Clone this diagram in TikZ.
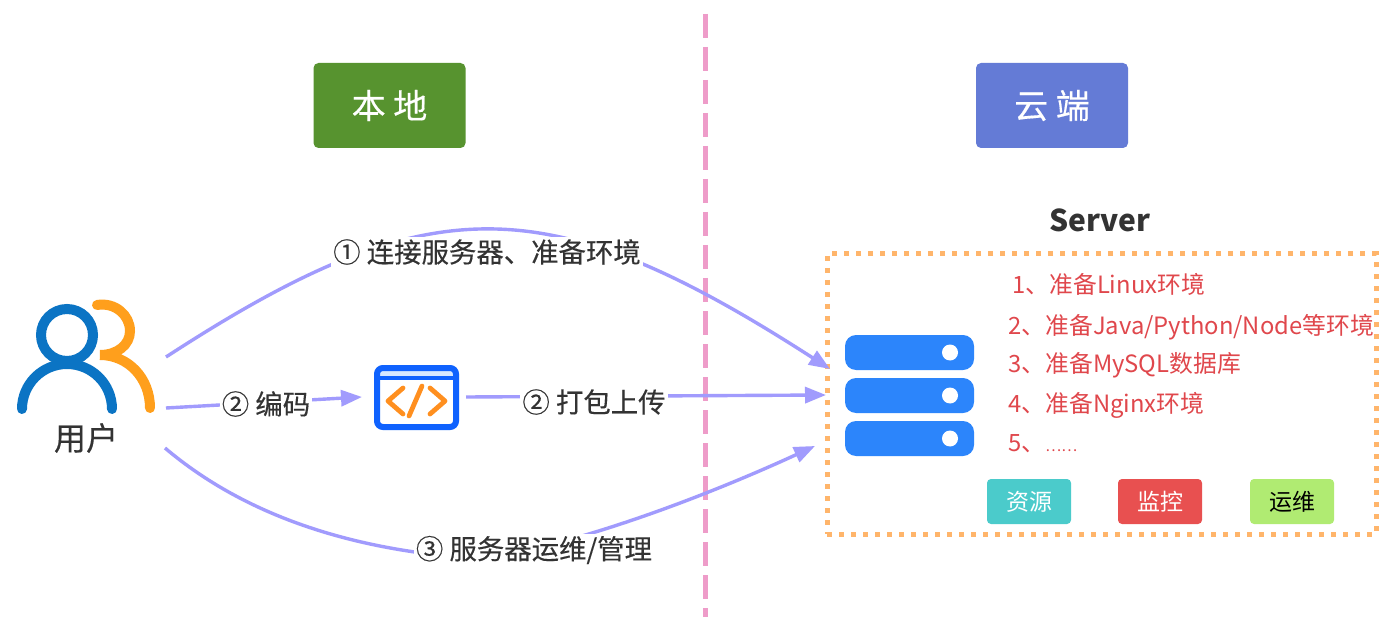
\documentclass[tikz,border=0pt]{standalone}
\usepackage{fontspec}
\setmainfont{Noto Sans CJK SC}
\newfontfamily\heavycjk[FakeBold=0.35]{Noto Sans CJK SC}
\usetikzlibrary{arrows.meta,positioning}
\definecolor{flowc}{HTML}{A19BFD}
\definecolor{inkc}{HTML}{333333}
\definecolor{redt}{HTML}{E0474C}
\definecolor{blueu}{HTML}{0B74C4}
\definecolor{orangeu}{HTML}{FF9F1C}
\definecolor{orangec}{HTML}{FF8F1F}
\definecolor{bluebar}{HTML}{2C85FB}
\definecolor{iconb}{HTML}{0F62FE}
\definecolor{stripc}{HTML}{D6E8FF}
\definecolor{pinkc}{HTML}{EE9CC9}
\definecolor{dotc}{HTML}{FFB56B}
\tikzset{
  flow/.style={draw=flowc,line width=1.7pt,-{Triangle[length=10.5pt,width=8pt]}},
  flowlabel/.style={fill=white,text=inkc,font=\heavycjk\fontsize{13.7}{15}\selectfont,inner sep=1pt},
  zonebox/.style={rounded corners=2.5pt,minimum width=76pt,minimum height=42.5pt,text=white,font=\heavycjk\fontsize{17}{19}\selectfont},
  tagbox/.style={rounded corners=2pt,minimum width=42pt,minimum height=22.5pt,inner sep=0pt,font=\fontsize{11.5}{13}\selectfont},
  bar/.style={fill=bluebar,rounded corners=5.5pt,minimum width=64.5pt,minimum height=17.5pt,inner sep=0pt},
  dot/.style={circle,fill=white,minimum size=8pt,inner sep=0pt},
  task/.style={anchor=west,text=redt,inner sep=0pt,font=\fontsize{11.9}{14}\selectfont},
  ubody/.style={line width=5pt,line cap=round},
  glyph/.style={draw=orangec,line width=2.4pt,line cap=round,line join=round},
}
\begin{document}
\begin{tikzpicture}[x=0.5pt,y=-0.5pt]
\useasboundingbox[fill=white] (0,0) rectangle (1400,641);

% divider between the two sides
\draw[pinkc,line width=2.5pt,dash pattern=on 12pt off 4.5pt] (705,14) -- (705,617);

% side headers
\node[zonebox,fill={rgb,255:red,87;green,147;blue,47}] (local) at (389.5,105.5) {本 地};
\node[zonebox,fill={rgb,255:red,100;green,123;blue,214}] (cloud) at (1052,105.5) {云 端};

% user figure
\draw[blueu,line width=5pt] (67,335) circle[radius=13pt];
\draw[blueu,ubody] (22,409) arc[start angle=180,end angle=0,radius=22.5pt];
\draw[orangeu,ubody] (97,305) .. controls (115,302) and (130,315) .. (130,331)
   .. controls (130,345) and (117,355) .. (100,355)
   .. controls (128,355) and (150,378) .. (150,408);
\node[text=inkc,font=\heavycjk\fontsize{16}{18}\selectfont,inner sep=0pt] (user) at (86,438) {用户};

% code window icon
\fill[stripc] (377,368) rectangle (456,377);
\node[draw=iconb,line width=3pt,rounded corners=3pt,minimum width=39.5pt,minimum height=29.5pt,inner sep=0pt] (icon) at (416.5,397.5) {};
\draw[iconb,line width=2.2pt] (375,378) -- (458,378);
\draw[glyph] (403,388) -- (388,401) -- (403,414);
\draw[glyph] (430,388) -- (445,401) -- (430,414);
\draw[glyph] (422,386) -- (409,416);

% server box
\node[draw=dotc,line width=2.5pt,dash pattern=on 2.6pt off 3.4pt,minimum width=274.5pt,minimum height=140pt,inner sep=0pt] (serverbox) at (1101.5,394) {};
\node[text=inkc,font=\fontsize{15}{17}\selectfont\bfseries,inner sep=0pt] (servertitle) at (1100,220) {Server};

\node[bar] (bar1) at (909.5,352.5) {};
\node[bar] (bar2) at (909.5,395.5) {};
\node[bar] (bar3) at (909.5,438.5) {};
\node[dot] (dot1) at (950,352.5) {};
\node[dot] (dot2) at (950,395.5) {};
\node[dot] (dot3) at (950,438.5) {};

\node[task] (t1) at (1012,284) {1、准备Linux环境};
\node[task] (t2) at (1008,327) {2、准备Java/Python/Node等环境};
\node[task] (t3) at (1008,365) {3、准备MySQL数据库};
\node[task] (t4) at (1008,405) {4、准备Nginx环境};
\node[task] (t5) at (1008,444) {5、{\fontsize{7.5}{9}\selectfont ……}};

\node[tagbox,fill={rgb,255:red,75;green,203;blue,203},text=white] (res) at (1029,501.5) {资源};
\node[tagbox,fill={rgb,255:red,232;green,80;blue,80},text=white] (mon) at (1160,501.5) {监控};
\node[tagbox,fill={rgb,255:red,176;green,235;blue,114},text=black] (ops) at (1292,501.5) {运维};

% connector ends
\coordinate (a1) at (166,357);
\coordinate (b1) at (830,369);
\coordinate (a2) at (166,408);
\coordinate (b2) at (362,397);
\coordinate (c2) at (466,397);
\coordinate (d2) at (826,395);
\coordinate (a3) at (165,448);
\coordinate (m3) at (470,558);
\coordinate (b3) at (815,446);

% connectors
\draw[flow] (a1) .. controls (429,186) and (546,186) .. (b1);
\draw[flow] (a2) -- (b2);
\draw[flow] (c2) -- (d2);
\draw[flow] (a3) .. controls (250,520) and (360,550) .. (m3)
   .. controls (540,556) and (680,508) .. (b3);

% connector labels
\node[flowlabel] (l1) at (487,252) {① 连接服务器、准备环境};
\node[flowlabel] (l2) at (266,404) {② 编码};
\node[flowlabel] (l3) at (594,402) {② 打包上传};
\node[flowlabel] (l4) at (534,550) {③ 服务器运维/管理};
\end{tikzpicture}
\end{document}
